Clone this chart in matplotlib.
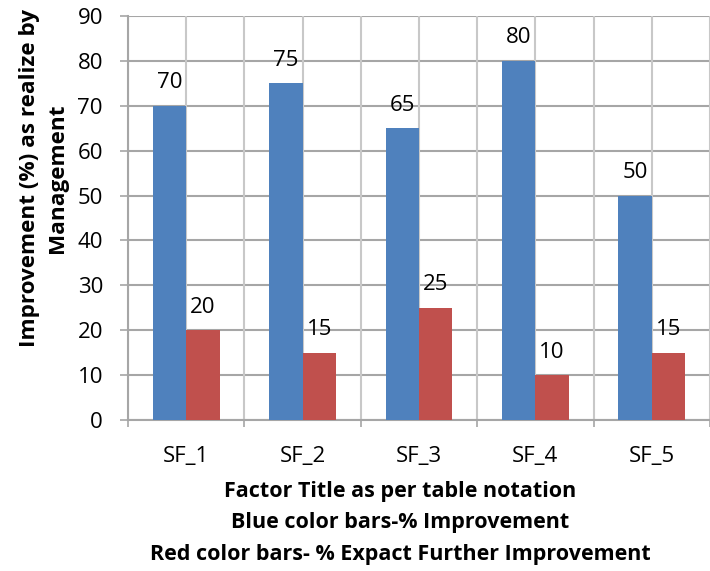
import matplotlib
matplotlib.use("Agg")
import matplotlib.pyplot as plt
import numpy as np

# ---------------- Data ---------------- #
factors = ["SF_1", "SF_2", "SF_3", "SF_4", "SF_5"]
improvement = [70, 75, 65, 80, 50]          # blue bars
further_improvement = [20, 15, 25, 10, 15]  # red bars

BLUE = "#4F81BD"
RED = "#C0504D"
GRID = "#a6a6a6"

plt.rcParams["font.family"] = ["Open Sans", "DejaVu Sans"]

fig = plt.figure(figsize=(7.10, 5.71), dpi=100)
ax = fig.add_axes([128 / 710, 151 / 571, (710 - 128) / 710, (420 - 16) / 571])

x = np.arange(len(factors))
w = 0.287
b1 = ax.bar(x - w / 2, improvement, w, color=BLUE, zorder=3)
b2 = ax.bar(x + w / 2, further_improvement, w, color=RED, zorder=3)

# value labels above the bars
for bars, vals in [(b1, improvement), (b2, further_improvement)]:
    for bar, v in zip(bars, vals):
        ax.annotate(str(v), (bar.get_x() + bar.get_width() / 2, v),
                    xytext=(0, 16.5), textcoords="offset points",
                    ha="center", va="center", fontsize=16)

ax.set_ylim(0, 90)
ax.set_yticks(range(0, 91, 10))
ax.set_xlim(-0.5, (710 - 128) / 118 - 0.5)

# ticks at category boundaries, gridlines every half category
ax.set_xticks(x)
ax.set_xticklabels(factors, fontsize=16)
ax.set_xticks(np.arange(-0.5, 5.0, 1.0), minor=True)
ax.tick_params(axis="x", which="major", length=0, pad=19)
ax.tick_params(axis="x", which="minor", length=5, color=GRID, width=1.2)
ax.tick_params(axis="y", length=6, color=GRID, width=1.2, labelsize=16, pad=12)

for xv in np.arange(-0.5, 5.0, 0.5):
    ax.axvline(xv, color="#c8c8c8", lw=1.5, zorder=1)
ax.yaxis.grid(True, color=GRID, lw=1.5, zorder=1)
ax.set_axisbelow(True)

for s in ["top", "right"]:
    ax.spines[s].set_visible(False)
for s in ["left", "bottom"]:
    ax.spines[s].set_color(GRID)
    ax.spines[s].set_linewidth(1.5)

ax.set_xlabel("Factor Title as per table notation\n"
              "Blue color bars-% Improvement\n"
              "Red color bars- % Expact Further Improvement",
              fontsize=15.5, fontweight="bold", linespacing=1.66, labelpad=2)
ax.set_ylabel("Improvement (%) as realize by\nManagement",
              fontsize=16.2, fontweight="bold", linespacing=1.45)
ax.xaxis.set_label_coords((400 - 128) / 582, -(565 - 420) / 404)
ax.xaxis.label.set_va("bottom")
ax.yaxis.set_label_coords((68 - 128) / 582, (420 - 178) / 404)

fig.savefig("out.png", dpi=100)
